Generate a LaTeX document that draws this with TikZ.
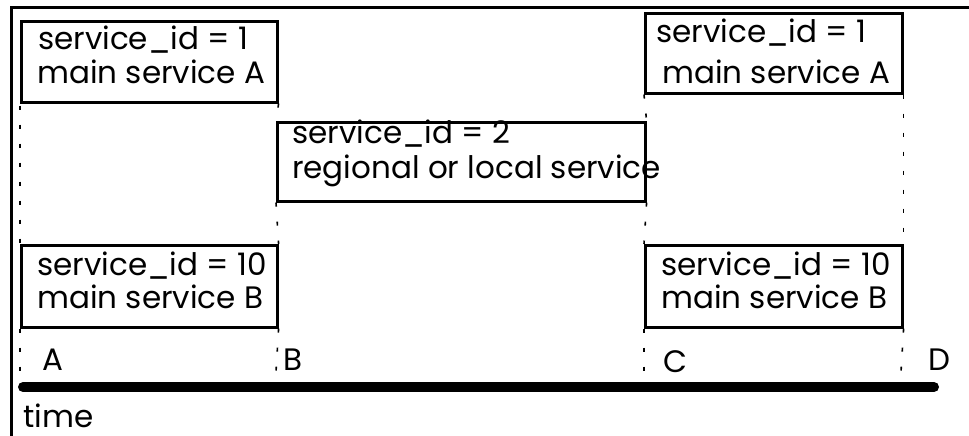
\documentclass[tikz,border=0pt]{standalone}
\usepackage{fontspec}
\setmainfont{Poppins}
\begin{document}
\begin{tikzpicture}[x=1pt,y=-1pt,
  box/.style={draw, line width=2.6pt, inner sep=0pt, anchor=north west},
  txt/.style={inner sep=0pt, anchor=base west, font=\fontsize{31}{34}\selectfont},
  sep/.style={line width=1.6pt, dash pattern=on 4pt off 15pt},
  frame/.style={line width=3pt},
  timeline/.style={line width=10pt, line cap=round}]
\useasboundingbox (0,0) rectangle (969,436);
% frame (only top and left visible)
\coordinate (fbl) at (11,436);
\coordinate (ftl) at (11,8);
\coordinate (ftr) at (969,8);
\draw[frame] (fbl) -- (ftl) -- (ftr);
% boxes
\node[box, minimum width=256pt, minimum height=81pt] (b1) at (20,20) {};
\node[box, minimum width=368pt, minimum height=79pt] (b2) at (276,121) {};
\node[box, minimum width=257pt, minimum height=80pt] (b3) at (644,12) {};
\node[box, minimum width=256pt, minimum height=82pt] (b4) at (20,244) {};
\node[box, minimum width=257pt, minimum height=82pt] (b5) at (644,244) {};
% texts
\node[txt] (t1a) at (38,50) {service\_id = 1};
\node[txt] (t1b) at (37,83) {main service A};
\node[txt] (t2a) at (292,143) {service\_id = 2};
\node[txt] (t2b) at (292,178) {regional or local service};
\node[txt] (t3a) at (656,43) {service\_id = 1};
\node[txt] (t3b) at (662,83) {main service A};
\node[txt] (t4a) at (37,275) {service\_id = 10};
\node[txt] (t4b) at (37,308) {main service B};
\node[txt] (t5a) at (661,275) {service\_id = 10};
\node[txt] (t5b) at (661,308) {main service B};
% separators
\coordinate (eA) at (20,372);
\coordinate (eB) at (276,372);
\coordinate (eC) at (644,372);
\coordinate (eD) at (901,372);
\draw[sep, dash phase=-2pt] (b1.south west) -- (b4.north west);
\draw[sep] (b4.south west) -- (eA);
\draw[sep] (b1.south east) -- (b2.north west);
\draw[sep] (b2.south west) -- (b4.north east);
\draw[sep] (b4.south east) -- (eB);
\draw[sep] (b3.south west) -- (b2.north east);
\draw[sep] (b2.south east) -- (b5.north west);
\draw[sep] (b5.south west) -- (eC);
\draw[sep] (b3.south east) -- (b5.north east);
\draw[sep] (b5.south east) -- (eD);
% time axis
\coordinate (tl) at (23,387);
\coordinate (tr) at (934,387);
\draw[timeline] (tl) -- (tr);
\node[txt] (lA) at (42,370) {A};
\node[txt] (lB) at (283,370) {B};
\node[txt] (lC) at (663,372) {C};
\node[txt] (lD) at (928,370) {D};
\node[txt] (time) at (23,427) {time};
\end{tikzpicture}
\end{document}
